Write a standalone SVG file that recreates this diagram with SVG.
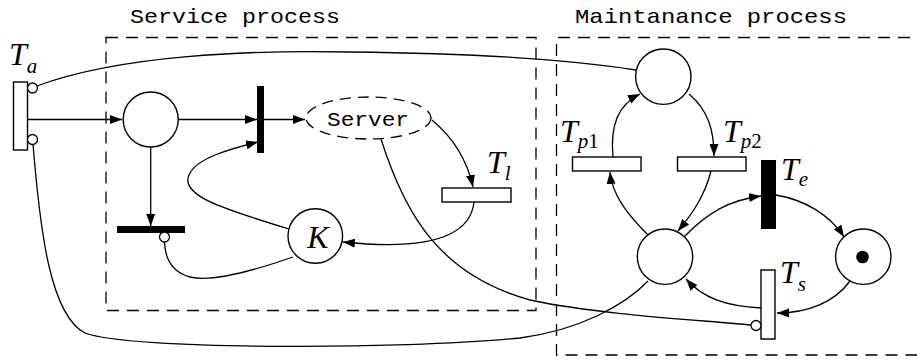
<svg xmlns="http://www.w3.org/2000/svg" width="917" height="360" viewBox="0 0 917 360">
<defs>
<marker id="arr" markerUnits="userSpaceOnUse" markerWidth="13" markerHeight="10" refX="12" refY="4.5" orient="auto">
<path d="M0,0 L12,4.5 L0,9 z" fill="#000"/>
</marker>
<style>
.box{fill:none;stroke:#000;stroke-width:1.3;stroke-dasharray:12 8}
.place{fill:#fff;stroke:#000;stroke-width:1.4}
.tw{fill:#fff;stroke:#000;stroke-width:1.4}
.tb{fill:#000;stroke:none}
.inh{fill:#fff;stroke:#000;stroke-width:1.3}
.arc{fill:none;stroke:#000;stroke-width:1.3}
.a{marker-end:url(#arr)}
.mono{font-family:"Liberation Mono","Courier New",monospace;font-size:21px;fill:#000}
.lbl{font-family:"Liberation Serif","Times New Roman",serif;font-style:italic;font-size:32px;fill:#000}
.sub{font-size:21px}
.up{font-style:normal}
</style>
</defs>
<rect width="917" height="360" fill="#fff"/>
<g id="regions">
<rect class="box" x="106" y="37.5" width="430" height="273"/>
<path class="box" d="M930 37.5 H556.5 V355 H930"/>
<text class="mono" x="130" y="23" textLength="210" lengthAdjust="spacingAndGlyphs">Service process</text>
<text class="mono" x="575" y="23" textLength="272" lengthAdjust="spacingAndGlyphs">Maintanance process</text>
</g>
<g id="connectors">
<path class="arc a" d="M27.5 119.5 H122"/>
<path class="arc a" d="M178 119.5 H257"/>
<path class="arc a" d="M264 119.5 H305"/>
<path class="arc a" d="M150.7 147 V226"/>
<path class="arc a" d="M289 229 C220 208, 180 195, 189 175 C196 158, 230 149, 258 142"/>
<path class="arc" d="M293 257 C250 272, 210 282, 190 277 C172 272, 165 258, 164.5 242"/>
<path class="arc a" d="M432 120 C450 135, 466 155, 473 187"/>
<path class="arc a" d="M474 202 C470 240, 420 250, 343 242"/>
<path class="arc" d="M381 139 C405 215, 440 275, 530 300 C600 315, 700 320, 751 325"/>
<path class="arc" d="M37 86 C120 55, 250 50, 350 52 C450 53, 560 58, 636 70"/>
<path class="arc" d="M33 144 C40 230, 50 315, 85 333 C130 350, 400 350, 520 338 C580 330, 625 305, 648 281"/>
<path class="arc a" d="M613 157 C610 125, 618 105, 640 94"/>
<path class="arc a" d="M689 94 C708 110, 714 130, 714 156"/>
<path class="arc a" d="M648 235 C628 215, 612 195, 610 172"/>
<path class="arc a" d="M711 171 C705 195, 693 213, 678 231"/>
<path class="arc a" d="M684 237 C708 212, 730 200, 761 196"/>
<path class="arc a" d="M776 195 C805 200, 830 215, 844 237"/>
<path class="arc a" d="M850 281 C835 302, 808 313, 777 313"/>
<path class="arc a" d="M761 308 C725 306, 703 298, 686 279"/>
</g>
<g id="Ta">
<rect class="tw" x="13.5" y="82" width="14" height="68"/>
<circle class="inh" cx="32.5" cy="88" r="5"/>
<circle class="inh" cx="32.5" cy="139.5" r="5"/>
<text class="lbl" x="9" y="65">T<tspan class="sub" dy="8">a</tspan></text>
</g>
<g id="P1"><circle class="place" cx="150.7" cy="119.5" r="27.5"/></g>
<g id="Tserve"><rect class="tb" x="257" y="86" width="7" height="67"/></g>
<g id="Server">
<ellipse cx="368.5" cy="118" rx="62.5" ry="21" fill="#fff" stroke="#000" stroke-width="1.3" stroke-dasharray="11 7"/>
<text class="mono" x="327" y="126" textLength="82" lengthAdjust="spacingAndGlyphs">Server</text>
</g>
<g id="Tdrop">
<rect class="tb" x="117" y="226" width="68" height="7"/>
<circle class="inh" cx="164.5" cy="237" r="5"/>
</g>
<g id="K">
<circle class="place" cx="315.3" cy="236" r="27.3"/>
<text class="lbl" x="318" y="248" text-anchor="middle">K</text>
</g>
<g id="Tl">
<rect class="tw" x="442" y="188" width="69" height="14"/>
<text class="lbl" x="487" y="173">T<tspan class="sub" dy="7">l</tspan></text>
</g>
<g id="Ptop"><circle class="place" cx="663.3" cy="76.7" r="27.7"/></g>
<g id="Tp1">
<rect class="tw" x="572.5" y="157" width="68.5" height="14"/>
<text class="lbl" x="560" y="142">T<tspan class="sub" dy="6">p<tspan class="up">1</tspan></tspan></text>
</g>
<g id="Tp2">
<rect class="tw" x="677.5" y="157" width="68.5" height="14"/>
<text class="lbl" x="723" y="142">T<tspan class="sub" dy="6">p<tspan class="up">2</tspan></tspan></text>
</g>
<g id="Te">
<rect class="tb" x="761" y="160" width="15" height="69"/>
<text class="lbl" x="781" y="180">T<tspan class="sub" dy="6">e</tspan></text>
</g>
<g id="Pbottom"><circle class="place" cx="665" cy="256.7" r="27.7"/></g>
<g id="Pright">
<circle class="place" cx="863.3" cy="256.7" r="27.7"/>
<circle cx="862.5" cy="257" r="6.3" fill="#000"/>
</g>
<g id="Ts">
<rect class="tw" x="761" y="270" width="14" height="69"/>
<circle class="inh" cx="756" cy="325.5" r="5"/>
<text class="lbl" x="780" y="283">T<tspan class="sub" dy="8">s</tspan></text>
</g>
</svg>
